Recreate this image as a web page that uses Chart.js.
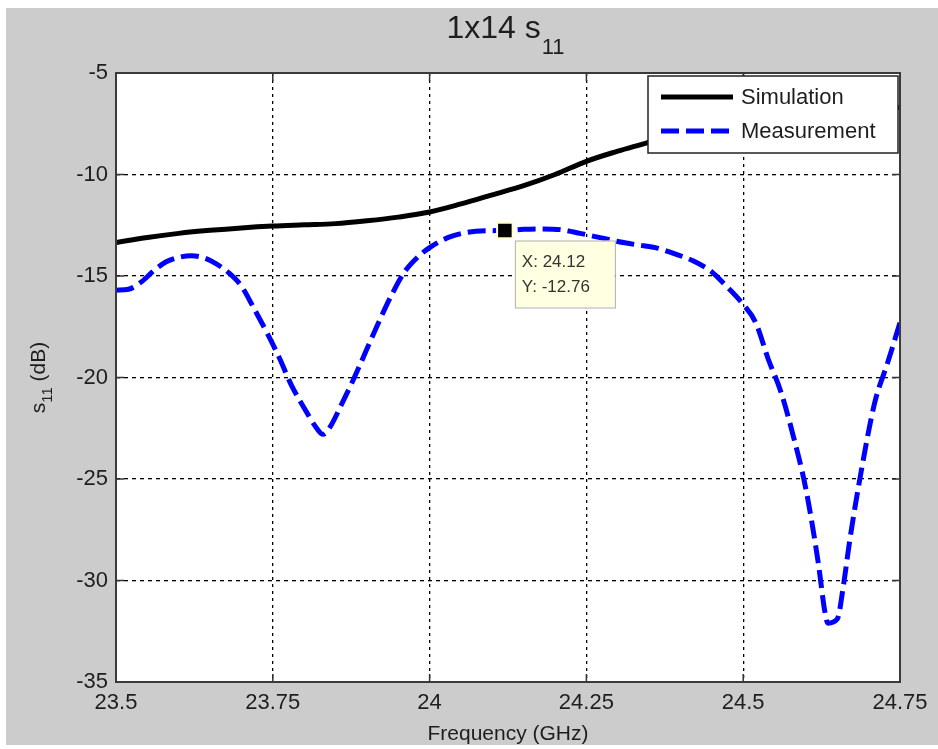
<!DOCTYPE html>
<html>
<head>
<meta charset="utf-8">
<script src="https://cdn.jsdelivr.net/npm/chart.js@4.4.1/dist/chart.umd.min.js"></script>
<style>
  html, body { margin: 0; padding: 0; background: #fff; }
  #wrap { width: 938px; height: 749px; position: relative; }
</style>
</head>
<body>
<div id="wrap"><canvas id="s11Chart" width="938" height="749"></canvas></div>
<script>
// frequency axis (GHz) and s11 (dB) values
const simFreq = [23.5, 23.55, 23.6, 23.65, 23.7, 23.75, 23.8, 23.85, 23.9, 23.95, 24.0, 24.05,
  24.1, 24.15, 24.2, 24.25, 24.3, 24.35, 24.4, 24.45, 24.5, 24.55, 24.6, 24.65, 24.7, 24.75];
const simS11 = [-13.35, -13.1, -12.9, -12.75, -12.63, -12.54, -12.48, -12.42, -12.28, -12.1, -11.85, -11.45,
  -11.0, -10.55, -10.0, -9.35, -8.85, -8.4, -7.9, -7.45, -7.1, -6.9, -6.8, -6.72, -6.7, -6.7];

const measFreq = [23.5, 23.52, 23.54, 23.56, 23.58, 23.6, 23.62, 23.64, 23.66, 23.68, 23.7, 23.72, 23.74,
  23.76, 23.78, 23.8, 23.82, 23.83, 23.84, 23.86, 23.88, 23.9, 23.92, 23.94, 23.96, 23.98, 24.0,
  24.03, 24.06, 24.09, 24.12, 24.15, 24.18, 24.21, 24.24, 24.27, 24.3, 24.33, 24.36, 24.39, 24.42,
  24.45, 24.47, 24.5, 24.52, 24.54, 24.56, 24.58, 24.6, 24.62, 24.63, 24.635, 24.65, 24.66, 24.67,
  24.69, 24.71, 24.73, 24.75];
const measS11 = [-15.7, -15.65, -15.3, -14.75, -14.3, -14.08, -14.0, -14.1, -14.4, -14.85, -15.5, -16.6, -17.75,
  -19.0, -20.4, -21.5, -22.5, -22.8, -22.5, -21.3, -20.0, -18.6, -17.2, -15.9, -14.8, -14.1, -13.6,
  -13.1, -12.85, -12.77, -12.76, -12.7, -12.68, -12.72, -12.9, -13.1, -13.3, -13.46, -13.6, -13.9, -14.25,
  -14.8, -15.4, -16.4, -17.3, -19.1, -20.7, -22.9, -25.5, -29.2, -31.5, -32.1, -31.9, -30.2, -28.0,
  -24.3, -21.2, -19.3, -17.3];

// data cursor shown on the figure
const tipFreq = [24.12];
const tipS11 = [-12.76];

const xTicks = [23.5, 23.75, 24, 24.25, 24.5, 24.75];
const yTicks = [-35, -30, -25, -20, -15, -10, -5];

const FONT = 'Arial, "Liberation Sans", sans-serif';
const INK = '#1e1e1e';

// gray figure background, axis frame, inward ticks, legend, labels and the datatip
const matlabLook = {
  id: 'matlabLook',
  beforeDraw(chart) {
    const c = chart.ctx;
    c.save();
    c.fillStyle = '#cccccc';
    c.fillRect(6, 8, chart.width - 6, chart.height - 12);
    const a = chart.chartArea;
    c.fillStyle = '#fff';
    c.fillRect(a.left, a.top, a.right - a.left, a.bottom - a.top);
    c.restore();
  },
  afterDatasetsDraw(chart) {
    const c = chart.ctx;
    const a = chart.chartArea;
    const xs = chart.scales.x, ys = chart.scales.y;
    c.save();

    // inward tick marks on all four sides
    c.strokeStyle = '#333';
    c.lineWidth = 1.5;
    c.setLineDash([]);
    c.beginPath();
    xTicks.forEach(v => {
      const px = xs.getPixelForValue(v);
      c.moveTo(px, a.bottom); c.lineTo(px, a.bottom - 8);
      c.moveTo(px, a.top); c.lineTo(px, a.top + 8);
    });
    yTicks.forEach(v => {
      const py = ys.getPixelForValue(v);
      c.moveTo(a.left, py); c.lineTo(a.left + 8, py);
      c.moveTo(a.right, py); c.lineTo(a.right - 8, py);
    });
    c.stroke();

    // axis box
    c.strokeStyle = '#3a3a3a';
    c.lineWidth = 2;
    c.strokeRect(a.left, a.top, a.right - a.left, a.bottom - a.top);

    // legend (inside, top right)
    const lx = 648, ly = 76, lw = 250, lh = 77;
    c.fillStyle = '#fff';
    c.fillRect(lx, ly, lw, lh);
    c.strokeStyle = '#222';
    c.lineWidth = 1.5;
    c.strokeRect(lx, ly, lw, lh);
    c.font = '22px ' + FONT;
    c.textBaseline = 'middle';
    c.textAlign = 'left';
    [0, 1].forEach(i => {
      const ds = chart.data.datasets[i];
      const yy = ly + 21 + i * 34;
      c.strokeStyle = ds.borderColor;
      c.lineWidth = ds.borderWidth;
      c.setLineDash(ds.borderDash || []);
      c.beginPath();
      c.moveTo(lx + 13, yy); c.lineTo(lx + 85, yy);
      c.stroke();
      c.setLineDash([]);
      c.fillStyle = INK;
      c.fillText(ds.label, lx + 93, yy + 1);
    });

    // datatip box next to the marker
    const mx = xs.getPixelForValue(tipFreq[0]);
    const my = ys.getPixelForValue(tipS11[0]);
    const bx = mx + 10, by = my + 10;
    c.fillStyle = '#ffffe1';
    c.fillRect(bx, by, 100, 67);
    c.strokeStyle = '#b0b0b0';
    c.lineWidth = 1;
    c.strokeRect(bx + 0.5, by + 0.5, 100, 67);
    c.fillStyle = '#333';
    c.font = '17px ' + FONT;
    c.textBaseline = 'middle';
    c.fillText('X: ' + tipFreq[0].toFixed(2), bx + 7, by + 22);
    c.fillText('Y: ' + tipS11[0].toFixed(2), bx + 7, by + 47);

    c.restore();
  },
  afterDraw(chart) {
    const c = chart.ctx;
    const a = chart.chartArea;
    c.save();
    c.fillStyle = INK;
    c.textBaseline = 'alphabetic';

    // title "1x14 s11" with subscript
    c.font = '32px ' + FONT;
    const main = '1x14 s';
    const mw = c.measureText(main).width;
    c.font = '22px ' + FONT;
    const sw = c.measureText('11').width;
    let tx = 505 - (mw + sw) / 2;
    c.font = '32px ' + FONT;
    c.textAlign = 'left';
    c.fillText(main, tx, 38);
    c.font = '22px ' + FONT;
    c.fillText('11', tx + mw + 1, 54);

    // x axis title
    c.font = '21px ' + FONT;
    c.textAlign = 'center';
    c.fillText('Frequency (GHz)', (a.left + a.right) / 2, 740);

    // y axis title, rotated, with subscript
    c.translate(45, (a.top + a.bottom) / 2);
    c.rotate(-Math.PI / 2);
    c.font = '21px ' + FONT;
    const w1 = c.measureText('s').width;
    const w3 = c.measureText(' (dB)').width;
    c.font = '15px ' + FONT;
    const w2 = c.measureText('11').width;
    let ox = -(w1 + w2 + w3) / 2;
    c.textAlign = 'left';
    c.font = '21px ' + FONT;
    c.fillText('s', ox, 0);
    c.font = '15px ' + FONT;
    c.fillText('11', ox + w1, 7);
    c.font = '21px ' + FONT;
    c.fillText(' (dB)', ox + w1 + w2, 0);
    c.restore();
  }
};

document.addEventListener('DOMContentLoaded', () => {
  const ctx = document.getElementById('s11Chart').getContext('2d');

  new Chart(ctx, {
    type: 'line',
    data: {
      datasets: [
        {
          label: 'Simulation',
          data: simFreq.map((f, i) => ({ x: f, y: simS11[i] })),
          borderColor: '#000',
          backgroundColor: '#000',
          borderWidth: 5,
          pointRadius: 0,
          fill: false,
          cubicInterpolationMode: 'monotone'
        },
        {
          label: 'Measurement',
          data: measFreq.map((f, i) => ({ x: f, y: measS11[i] })),
          borderColor: '#0000ff',
          backgroundColor: '#0000ff',
          borderWidth: 5,
          borderDash: [18, 7],
          pointRadius: 0,
          fill: false,
          cubicInterpolationMode: 'monotone'
        },
        {
          label: 'tip',
          type: 'scatter',
          order: -1, // keep the cursor marker above the lines
          data: tipFreq.map((f, i) => ({ x: f, y: tipS11[i] })),
          pointStyle: 'rect',
          pointRadius: 11,
          backgroundColor: '#000',
          borderColor: '#ffffd0',
          borderWidth: 2
        }
      ]
    },
    options: {
      responsive: false,
      animation: false,
      layout: { padding: { left: 0, top: 73, right: 38, bottom: 0 } },
      plugins: {
        legend: { display: false },
        title: { display: false },
        tooltip: { enabled: false }
      },
      scales: {
        x: {
          type: 'linear',
          min: 23.5,
          max: 24.75,
          afterFit: s => { s.height = 67; },
          afterBuildTicks: s => { s.ticks = xTicks.map(v => ({ value: v })); },
          ticks: {
            padding: 8,
            color: INK,
            font: { family: FONT, size: 22 },
            maxRotation: 0,
            callback: v => String(+v.toFixed(2))
          },
          grid: { color: '#000', lineWidth: 1.3, drawTicks: false },
          border: { display: false, dash: [3, 4] }
        },
        y: {
          type: 'linear',
          min: -35,
          max: -5,
          afterFit: s => { s.width = 116; },
          afterBuildTicks: s => { s.ticks = yTicks.map(v => ({ value: v })); },
          ticks: {
            padding: 8,
            color: INK,
            font: { family: FONT, size: 22 }
          },
          grid: { color: '#000', lineWidth: 1.3, drawTicks: false },
          border: { display: false, dash: [4, 4] }
        }
      }
    },
    plugins: [matlabLook]
  });
});
</script>
</body>
</html>
